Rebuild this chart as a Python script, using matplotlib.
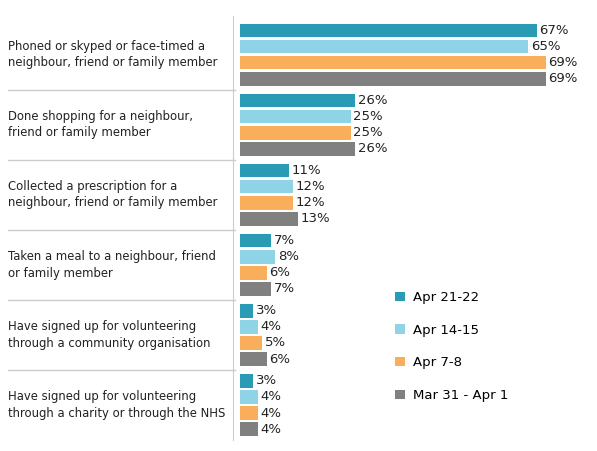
import numpy as np
import matplotlib.pyplot as plt

categories = [
    "Phoned or skyped or face-timed a\nneighbour, friend or family member",
    "Done shopping for a neighbour,\nfriend or family member",
    "Collected a prescription for a\nneighbour, friend or family member",
    "Taken a meal to a neighbour, friend\nor family member",
    "Have signed up for volunteering\nthrough a community organisation",
    "Have signed up for volunteering\nthrough a charity or through the NHS",
]
series = ["Apr 21-22", "Apr 14-15", "Apr 7-8", "Mar 31 - Apr 1"]
values = [
    [67, 26, 11, 7, 3, 3],
    [65, 25, 12, 8, 4, 4],
    [69, 25, 12, 6, 5, 4],
    [69, 26, 13, 7, 6, 4],
]
colors = ["#2a9bb5", "#8fd3e6", "#f9ae5b", "#808080"]

fig = plt.figure(figsize=(5.97, 4.51), dpi=100)
ax = fig.add_axes([240 / 597, 11 / 451, 350 / 597, 424 / 451])

pitch = 0.23
height = 0.195
y0 = np.arange(len(categories))
for i, (name, vals, c) in enumerate(zip(series, values, colors)):
    ys = y0 + (i - 1.5) * pitch
    ax.barh(ys, vals, height=height, color=c, label=name)
    for y, v in zip(ys, vals):
        ax.text(v + 0.6, y, f"{v}%", va="center", ha="left", fontsize=9.5, color="#222222")

ax.set_xlim(0, 79)
ax.set_ylim(len(categories) - 0.5, -0.55)
for s in ["top", "right", "bottom"]:
    ax.spines[s].set_visible(False)
ax.spines["left"].set_color("#cccccc")
ax.spines["left"].set_position(("outward", 5))
ax.set_xticks([])
ax.set_yticks([])

trans = ax.get_yaxis_transform()
for j, cat in enumerate(categories):
    ax.text(-232 / 350, j, cat, transform=trans, ha="left", va="center",
            fontsize=8.4, color="#222222", linespacing=1.35)
for b in np.arange(0.5, len(categories) - 0.5):
    ax.plot([-232 / 350, -5 / 350], [b, b], transform=trans,
            color="#cccccc", lw=1, clip_on=False)

ax.legend(loc="upper left", bbox_to_anchor=(0.41, 0.38), frameon=False, fontsize=9.5,
          handlelength=0.7, handleheight=0.7, labelspacing=1.5, handletextpad=0.6)

fig.savefig("out.png", dpi=100)
